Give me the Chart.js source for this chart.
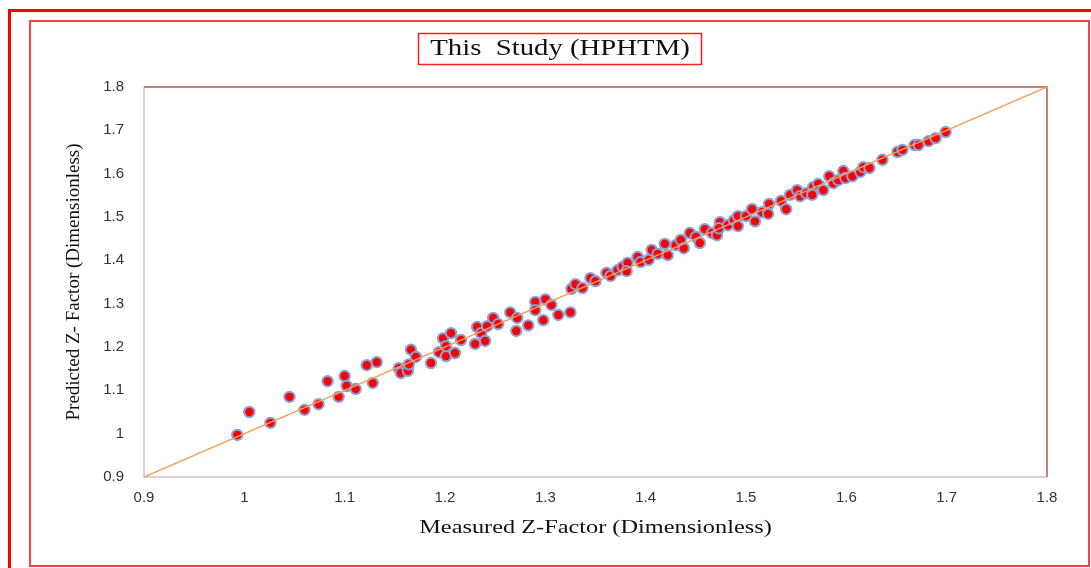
<!DOCTYPE html>
<html>
<head>
<meta charset="utf-8">
<script src="https://cdn.jsdelivr.net/npm/chart.js@4.4.1/dist/chart.umd.min.js"></script>
<style>
  html, body { margin: 0; padding: 0; background: #fff; overflow: hidden; }
  #wrap { position: relative; width: 1091px; height: 568px; }
  .outer { position: absolute; left: 8px; top: 9px; width: 1100px; height: 600px; border: 3px solid #ff0000; }
  .inner { position: absolute; left: 29px; top: 20px; width: 1057px; height: 543px; border: 2px solid #ff4040; }
  canvas { position: absolute; left: 0; top: 0; }
</style>
</head>
<body>
<div id="wrap">
  <div class="outer"></div>
  <div class="inner"></div>
  <canvas id="chart" width="1091" height="568"></canvas>
</div>
<script>
// measured vs predicted z-factor
const measured = [
  0.993, 1.005, 1.026, 1.045, 1.060, 1.074, 1.083, 1.094, 1.100, 1.102,
  1.111, 1.122, 1.132, 1.128, 1.154, 1.156, 1.163, 1.166, 1.164, 1.171,
  1.186, 1.194, 1.198, 1.201, 1.201, 1.206, 1.210, 1.216, 1.230, 1.232,
  1.236, 1.240, 1.242, 1.248, 1.253, 1.265, 1.271, 1.272, 1.283, 1.290,
  1.290, 1.298, 1.300, 1.306, 1.313, 1.325, 1.326, 1.330, 1.337, 1.345,
  1.350, 1.361, 1.365, 1.372, 1.377, 1.382, 1.381, 1.392, 1.395, 1.403,
  1.406, 1.412, 1.419, 1.422, 1.430, 1.435, 1.438, 1.444, 1.450, 1.454,
  1.459, 1.466, 1.471, 1.474, 1.473, 1.482, 1.488, 1.492, 1.492, 1.500,
  1.506, 1.509, 1.516, 1.523, 1.522, 1.535, 1.540, 1.544, 1.551, 1.554,
  1.560, 1.567, 1.566, 1.572, 1.577, 1.583, 1.587, 1.592, 1.597, 1.599,
  1.606, 1.614, 1.617, 1.623, 1.636, 1.651, 1.656, 1.668, 1.672, 1.682,
  1.689, 1.699
];
const predicted = [
  0.997, 1.050, 1.025, 1.085, 1.055, 1.068, 1.121, 1.085, 1.133, 1.110,
  1.103, 1.158, 1.165, 1.117, 1.151, 1.140, 1.145, 1.194, 1.160, 1.177,
  1.163, 1.188, 1.220, 1.179, 1.202, 1.232, 1.186, 1.216, 1.207, 1.246,
  1.232, 1.214, 1.248, 1.267, 1.253, 1.280, 1.237, 1.267, 1.250, 1.304,
  1.285, 1.262, 1.310, 1.297, 1.274, 1.280, 1.334, 1.345, 1.336, 1.359,
  1.352, 1.371, 1.364, 1.377, 1.385, 1.394, 1.375, 1.408, 1.396, 1.401,
  1.424, 1.415, 1.438, 1.412, 1.435, 1.447, 1.428, 1.463, 1.454, 1.440,
  1.472, 1.463, 1.458, 1.488, 1.474, 1.481, 1.492, 1.502, 1.479, 1.502,
  1.518, 1.490, 1.511, 1.530, 1.507, 1.537, 1.518, 1.551, 1.562, 1.548,
  1.555, 1.569, 1.551, 1.576, 1.562, 1.594, 1.578, 1.585, 1.606, 1.590,
  1.594, 1.604, 1.615, 1.613, 1.632, 1.650, 1.655, 1.666, 1.666, 1.675,
  1.682, 1.696
];
const lineX = [0.9, 1.8];
const lineY = [0.9, 1.8];
const tickValues = [0.9, 1.0, 1.1, 1.2, 1.3, 1.4, 1.5, 1.6, 1.7, 1.8];
const chartTitle = 'This  Study (HPHTM)';
const xTitle = 'Measured Z-Factor (Dimensionless)';
const yTitle = 'Predicted Z- Factor (Dimensionless)';

const points = measured.map((x, i) => ({ x: x, y: predicted[i] }));
const diag = lineX.map((x, i) => ({ x: x, y: lineY[i] }));

const serif = '"Liberation Serif", "Times New Roman", serif';

// text in the source is a bit stretched sideways, so draw it with a scaleX
function wideText(c, text, cx, cy, size, sx) {
  c.save();
  c.font = size + 'px ' + serif;
  c.fillStyle = '#111';
  c.textAlign = 'center';
  c.textBaseline = 'middle';
  c.translate(cx, cy);
  c.scale(sx, 1);
  c.fillText(text, 0, 0);
  c.restore();
}

// plot frame (gray left/bottom, red top/right), title box, titles
const framePlugin = {
  id: 'frame',
  beforeDatasetsDraw(chart) {
    const a = chart.chartArea;
    const c = chart.ctx;
    c.save();
    c.lineWidth = 1.5;
    c.strokeStyle = '#c8c8c8';
    c.beginPath();
    c.moveTo(a.left, a.top);
    c.lineTo(a.left, a.bottom);
    c.lineTo(a.right, a.bottom);
    c.stroke();
    c.strokeStyle = '#c0504d';
    c.beginPath();
    c.moveTo(a.left, a.top);
    c.lineTo(a.right, a.top);
    c.lineTo(a.right, a.bottom);
    c.stroke();
    c.restore();
  },
  afterDraw(chart) {
    const a = chart.chartArea;
    const c = chart.ctx;
    c.save();
    c.strokeStyle = '#ff2020';
    c.lineWidth = 1.5;
    c.strokeRect(418.5, 33.5, 283, 31);
    c.restore();
    wideText(c, chartTitle, 560, 49, 23, 1.25);
    wideText(c, xTitle, (a.left + a.right) / 2, 528, 19, 1.28);
  }
};

const ctx = document.getElementById('chart').getContext('2d');
new Chart(ctx, {
  type: 'scatter',
  data: {
    datasets: [
      {
        label: 'Data',
        data: points,
        backgroundColor: '#ff0000',
        borderColor: '#86a2d8',
        borderWidth: 2,
        pointRadius: 5.2,
        order: 2
      },
      {
        type: 'line',
        label: 'Unit slope',
        data: diag,
        borderColor: '#f5a05a',
        borderWidth: 1.5,
        pointRadius: 0,
        fill: false,
        order: 1
      }
    ]
  },
  options: {
    responsive: false,
    animation: false,
    layout: { padding: { left: 60, right: 44, top: 87, bottom: 30 } },
    plugins: {
      legend: { display: false },
      tooltip: { enabled: false },
      title: { display: false }
    },
    scales: {
      x: {
        type: 'linear',
        min: 0.9,
        max: 1.8,
        afterBuildTicks(scale) { scale.ticks = tickValues.map(v => ({ value: v })); },
        afterFit(scale) { scale.height = 61; },
        grid: { display: false, drawTicks: false },
        border: { display: false },
        ticks: {
          padding: 12,
          color: '#333',
          font: { family: '"Liberation Sans", Arial, sans-serif', size: 15 },
          callback: v => String(Math.round(v * 10) / 10)
        },
        title: { display: false }
      },
      y: {
        type: 'linear',
        min: 0.9,
        max: 1.8,
        afterBuildTicks(scale) { scale.ticks = tickValues.map(v => ({ value: v })); },
        afterFit(scale) { scale.width = 84; },
        grid: { display: false, drawTicks: false },
        border: { display: false },
        ticks: {
          padding: 20,
          color: '#333',
          font: { family: '"Liberation Sans", Arial, sans-serif', size: 15 },
          callback: v => String(Math.round(v * 10) / 10)
        },
        title: {
          display: true,
          text: yTitle,
          color: '#111',
          font: { family: serif, size: 19 },
          padding: { top: 3, bottom: 0 }
        }
      }
    }
  },
  plugins: [framePlugin]
});
</script>
</body>
</html>
